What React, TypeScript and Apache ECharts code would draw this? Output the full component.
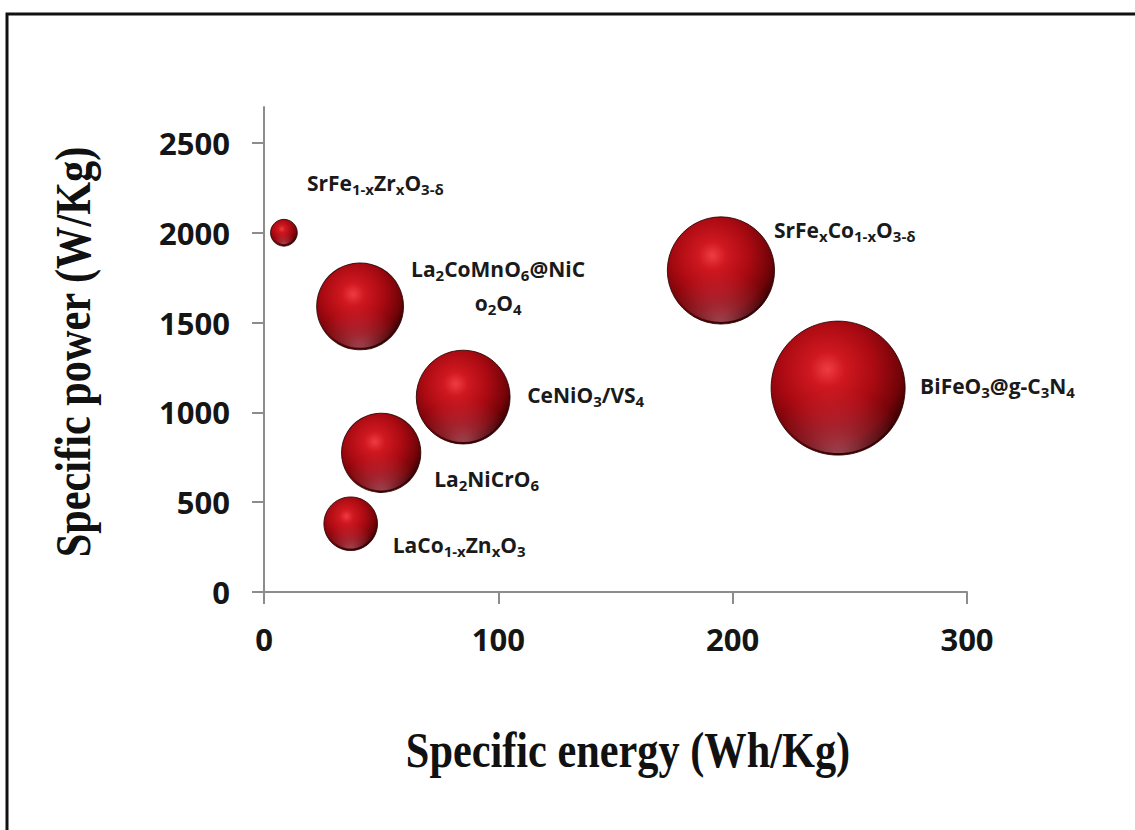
import React, { useEffect, useRef } from "react";
import * as echarts from "echarts";

// ---- data ----
const materialLabels = [
  "{n|SrFe}{s|1-x}{n|Zr}{s|x}{n|O}{s|3-δ}",
  "{n|La}{s|2}{n|CoMnO}{s|6}{n|@NiC}\n{n|o}{s|2}{n|O}{s|4}",
  "{n|CeNiO}{s|3}{n|/VS}{s|4}",
  "{n|La}{s|2}{n|NiCrO}{s|6}",
  "{n|LaCo}{s|1-x}{n|Zn}{s|x}{n|O}{s|3}",
  "{n|SrFe}{s|x}{n|Co}{s|1-x}{n|O}{s|3-δ}",
  "{n|BiFeO}{s|3}{n|@g-C}{s|3}{n|N}{s|4}",
];
const specificEnergy = [8.5, 41, 85, 50, 37, 195, 245];
const specificPower = [2000, 1590, 1085, 775, 380, 1790, 1135];
const bubbleValue = [4, 42, 49, 35, 16, 64, 100];
const xTicks = [0, 100, 200, 300];
const yTicks = [0, 500, 1000, 1500, 2000, 2500];
const xTitle = "Specific energy (Wh/Kg)";
const yTitle = "Specific power (W/Kg)";

// label layout (offset from bubble centre)
const labelLayout: { off: [number, number]; align: string }[] = [
  { off: [23, -53], align: "left" },
  { off: [138, -24], align: "center" },
  { off: [64, -6], align: "left" },
  { off: [53, 23], align: "left" },
  { off: [42, 18], align: "left" },
  { off: [53, -44], align: "left" },
  { off: [82, -6], align: "left" },
];

const MAX_D = 134;
const sizeFn = (v: number[]) => MAX_D * Math.sqrt(v[2] / 100);

const axisColor = "#8c8c8c";
const tickFont = {
  fontFamily: "Open Sans",
  fontWeight: "bold" as const,
  fontSize: 31,
  color: "#151515",
};

export default function App() {
  const ref = useRef<HTMLDivElement>(null);
  useEffect(() => {
    if (!ref.current) return;
    const chart = echarts.init(ref.current, undefined, { renderer: "svg" });
    const data = specificEnergy.map((x, i) => ({
      value: [x, specificPower[i], bubbleValue[i]],
      label: {
        show: true,
        position: "inside",
        formatter: materialLabels[i],
        align: labelLayout[i].align,
        verticalAlign: "middle",
        offset: labelLayout[i].off,
      },
    }));
    const rich = {
      n: {
        fontFamily: "Open Sans",
        fontWeight: "bold",
        fontSize: 21,
        color: "#1a1a1a",
        lineHeight: 34,
        verticalAlign: "bottom",
        padding: [0, 0, 3, 0],
      },
      s: {
        fontFamily: "Open Sans",
        fontWeight: "bold",
        fontSize: 15,
        color: "#1a1a1a",
        lineHeight: 18,
        verticalAlign: "bottom",
      },
    };
    chart.setOption({
      animation: false,
      backgroundColor: "#ffffff",
      grid: { left: 264, right: 168, top: 107, bottom: 238 },
      xAxis: {
        type: "value",
        min: xTicks[0],
        max: xTicks[xTicks.length - 1],
        interval: 100,
        axisLine: { show: true, lineStyle: { color: axisColor, width: 2 } },
        axisTick: { show: true, length: 12, lineStyle: { color: axisColor, width: 2 } },
        splitLine: { show: false },
        axisLabel: { ...tickFont, margin: 31, formatter: (v: number) => String(v) },
      },
      yAxis: {
        type: "value",
        min: 0,
        max: 2700,
        axisLine: { show: true, lineStyle: { color: axisColor, width: 2 } },
        axisTick: {
          show: true,
          length: 12,
          lineStyle: { color: axisColor, width: 2 },
          customValues: yTicks,
        },
        splitLine: { show: false },
        axisLabel: {
          ...tickFont,
          margin: 34,
          customValues: yTicks,
          formatter: (v: number) => String(v),
        },
      },
      series: [
        {
          type: "scatter",
          data,
          symbolSize: sizeFn,
          itemStyle: {
            opacity: 1,
            color: {
              type: "radial",
              x: 0.42,
              y: 0.36,
              r: 0.64,
              colorStops: [
                { offset: 0, color: "#ee3c42" },
                { offset: 0.2, color: "#d01820" },
                { offset: 0.55, color: "#aa0a12" },
                { offset: 0.85, color: "#720408" },
                { offset: 1, color: "#3c0103" },
              ],
            },
            borderColor: "rgba(40,0,0,0.85)",
            borderWidth: 1,
          },
          label: { rich },
          emphasis: { disabled: true },
          z: 2,
        },
        {
          type: "scatter",
          data: specificEnergy.map((x, i) => [x, specificPower[i], bubbleValue[i]]),
          symbolSize: (v: number[]) => sizeFn(v) - 4,
          itemStyle: {
            opacity: 1,
            color: {
              type: "radial",
              x: 0.5,
              y: 1.05,
              r: 0.55,
              colorStops: [
                { offset: 0, color: "rgba(235,140,160,0.55)" },
                { offset: 0.45, color: "rgba(210,100,120,0.3)" },
                { offset: 1, color: "rgba(200,80,100,0)" },
              ],
            },
          },
          silent: true,
          z: 3,
        },
      ],
      graphic: [
        {
          type: "rect",
          shape: { x: 7, y: 14, width: 1140, height: 830 },
          style: { fill: "none", stroke: "#111111", lineWidth: 3 },
          z: 10,
        },
        {
          type: "text",
          x: 628,
          y: 750,
          scaleX: 0.83,
          style: {
            text: xTitle,
            fontFamily: "Liberation Serif",
            fontWeight: "bold",
            fontSize: 51,
            fill: "#111111",
            align: "center",
            verticalAlign: "middle",
          },
        },
        {
          type: "text",
          x: 73,
          y: 352,
          rotation: Math.PI / 2,
          scaleX: 0.83,
          style: {
            text: yTitle,
            fontFamily: "Liberation Serif",
            fontWeight: "bold",
            fontSize: 51,
            fill: "#111111",
            align: "center",
            verticalAlign: "middle",
          },
        },
      ],
    });
    return () => chart.dispose();
  }, []);
  return (
    <div
      ref={ref}
      style={{ position: "absolute", left: 0, top: 0, width: 1135, height: 830, background: "#fff" }}
    />
  );
}
